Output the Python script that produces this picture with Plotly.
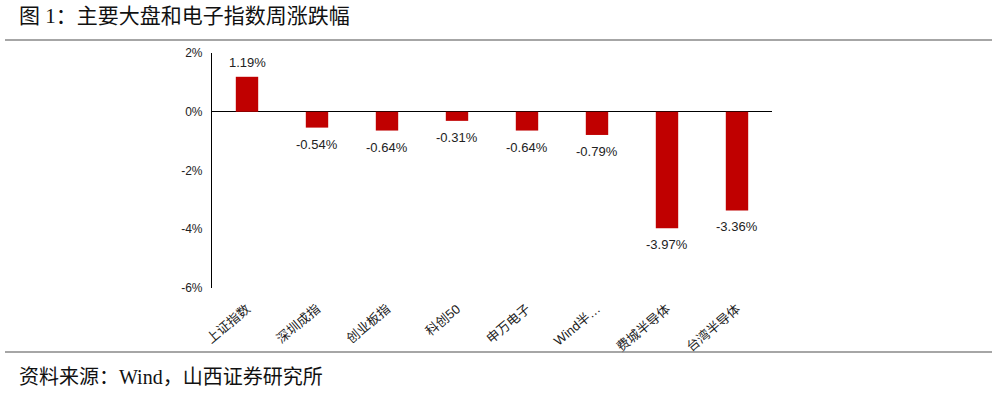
import plotly.graph_objects as go

categories = ["上证指数", "深圳成指", "创业板指", "科创50", "申万电子", "Wind半…", "费城半导体", "台湾半导体"]
values = [1.19, -0.54, -0.64, -0.31, -0.64, -0.79, -3.97, -3.36]
labels = [f"{v:.2f}%" for v in values]
tick_vals = [2, 0, -2, -4, -6]
tick_text = ["2%", "0%", "-2%", "-4%", "-6%"]

W, H = 997, 393
L, R, T, B = 212, 772, 53, 288

def px(x):
    return (x - L) / (R - L)

def py(y):
    return (B - y) / (B - T)

fig = go.Figure(go.Bar(
    x=categories, y=values,
    marker=dict(color="#C00000", line=dict(width=0)),
    width=0.32, cliponaxis=False, hoverinfo="skip",
))

value_annotations = [
    dict(x=c, y=v, text=t, xref="x", yref="y", showarrow=False,
         yanchor="bottom" if v >= 0 else "top", yshift=5 if v >= 0 else -7,
         font=dict(family="Arial, Liberation Sans, sans-serif", size=13, color="#222"))
    for c, v, t in zip(categories, values, labels)
]

fig.update_layout(
    width=W, height=H,
    margin=dict(l=L, r=W - R, t=T, b=H - B, autoexpand=False),
    paper_bgcolor="white", plot_bgcolor="white",
    showlegend=False,
    font=dict(family="Arial, Liberation Sans, Noto Sans CJK SC, sans-serif", color="#222"),
    xaxis=dict(
        tickangle=-40, showline=False, showgrid=False, zeroline=False, ticks="",
        automargin=False, ticklabelstandoff=10,
        tickfont=dict(size=13, family="Arial, Liberation Sans, Noto Sans CJK SC, sans-serif", color="#222"),
    ),
    yaxis=dict(
        range=[-6, 2], tickvals=tick_vals, ticktext=tick_text,
        showgrid=False, zeroline=True, zerolinecolor="#000", zerolinewidth=1.2,
        showline=True, linecolor="#000", linewidth=1.2, ticks="",
        automargin=False, ticklabelstandoff=6,
        tickfont=dict(size=12, color="#222"),
    ),
    shapes=[
        dict(type="line", xref="paper", yref="paper", x0=px(5), x1=px(992), y0=py(40), y1=py(40),
             line=dict(color="#888", width=1.5)),
        dict(type="line", xref="paper", yref="paper", x0=px(5), x1=px(992), y0=py(352), y1=py(352),
             line=dict(color="#888", width=1.5)),
    ],
    annotations=value_annotations + [
        dict(text="图 1：主要大盘和电子指数周涨跌幅", xref="paper", yref="paper",
             x=px(17), y=py(16), xanchor="left", yanchor="middle", showarrow=False,
             font=dict(size=21, family="Liberation Serif, Noto Sans CJK SC, serif", color="#111")),
        dict(text="资料来源：Wind，山西证券研究所", xref="paper", yref="paper",
             x=px(17), y=py(377), xanchor="left", yanchor="middle", showarrow=False,
             font=dict(size=20, family="Liberation Serif, Noto Sans CJK SC, serif", color="#111")),
    ],
)

fig.write_html("out.html", config={"displayModeBar": False},
               post_script="document.body.style.margin='0';document.body.style.overflow='hidden';")
